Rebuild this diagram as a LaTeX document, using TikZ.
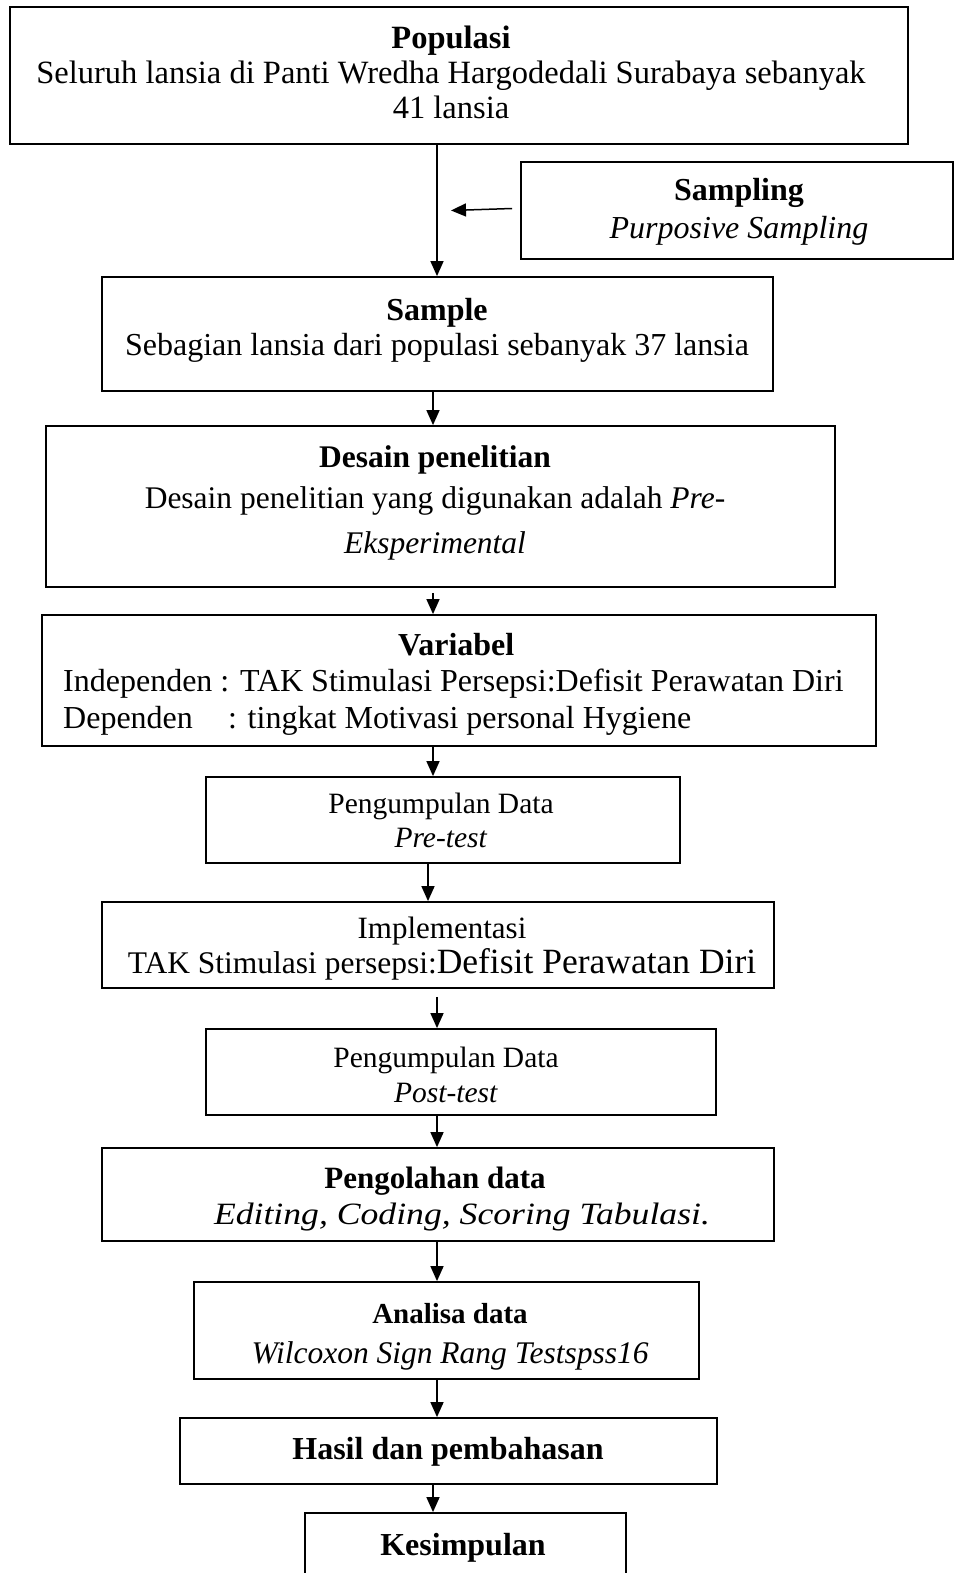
\documentclass[tikz,border=0pt]{standalone}
\usepackage{fontspec}
\setmainfont{Liberation Serif}
\newfontfamily\wde[FakeStretch=1.15]{Liberation Serif}
\usepackage{tikz}
\usetikzlibrary{arrows.meta,calc}

% strut that fixes the height of a first line
\newcommand{\ts}{\rule{0pt}{24pt}}

\tikzset{
  box/.style={draw, line width=1.8pt, rectangle, inner sep=0pt},
  txt/.style={align=center, inner sep=0pt, anchor=north},
  arr/.style={line width=1.5pt, -{Triangle[length=15pt,width=13pt]}},
}

\begin{document}
\begin{tikzpicture}[x=1pt,y=-1pt]
\path[use as bounding box, clip] (0,0) rectangle (955,1573);

% boxes
\node[box, minimum width=898, minimum height=137] (pop) at (459,75.5) {};
\node[box, minimum width=432, minimum height=97] (samp) at (737,210.5) {};
\node[box, minimum width=671, minimum height=114] (sample) at (437.5,334) {};
\node[box, minimum width=789, minimum height=161] (desain) at (440.5,506.5) {};
\node[box, minimum width=834, minimum height=131] (variabel) at (459,680.5) {};
\node[box, minimum width=474, minimum height=86] (pretest) at (443,820) {};
\node[box, minimum width=672, minimum height=86] (impl) at (438,945) {};
\node[box, minimum width=510, minimum height=86] (posttest) at (461,1072) {};
\node[box, minimum width=672, minimum height=93] (olah) at (438,1194.5) {};
\node[box, minimum width=505, minimum height=97] (analisa) at (446.5,1330.5) {};
\node[box, minimum width=537, minimum height=66] (hasil) at (448.5,1451) {};
\node[box, minimum width=321, minimum height=100] (simpul) at (465.5,1563) {};

% texts
\node[txt, font={\fontsize{32.5}{35}\selectfont}] (popT) at (451,24)
  {\ts\textbf{Populasi}\\Seluruh lansia di Panti Wredha Hargodedali Surabaya sebanyak\\41 lansia};
\node[txt, font={\fontsize{32}{38}\selectfont}] (sampT) at (739,176)
  {\ts\textbf{Sampling}\\\textit{Purposive Sampling}};
\node[txt, font={\fontsize{32}{35}\selectfont}] (sampleT) at (437,296)
  {\ts\textbf{Sample}\\Sebagian lansia dari populasi sebanyak 37 lansia};
\node[txt, font={\fontsize{31.5}{41}\selectfont}] (desainT) at (435,443)
  {\ts\textbf{Desain penelitian}\\Desain penelitian yang digunakan adalah \textit{Pre-}\\[4pt]\textit{Eksperimental}};
\node[txt, anchor=north west, font={\fontsize{32}{36.5}\selectfont}] (variabelT) at (63,631)
  {\ts\makebox[776pt][c]{\hspace{10pt}\textbf{Variabel}}\\
   \makebox[776pt][l]{Independen : TAK Stimulasi Persepsi:Defisit Perawatan Diri}\\
   \makebox[776pt][l]{\makebox[165pt][l]{Dependen}: tingkat Motivasi personal Hygiene}};
\node[txt, font={\fontsize{29.5}{34}\selectfont}] (pretestT) at (441,789)
  {\ts Pengumpulan Data\\\textit{Pre-test}};
\node[txt, font={\fontsize{31}{35}\selectfont}] (implT) at (442,914)
  {\ts Implementasi\\{\fontsize{31.5}{35}\selectfont TAK Stimulasi persepsi:}{\fontsize{35.5}{35}\selectfont Defisit Perawatan Diri}};
\node[txt, font={\fontsize{29.5}{35}\selectfont}] (posttestT) at (446,1043)
  {\ts Pengumpulan Data\\\textit{Post-test}};
\node[txt, font={\fontsize{31}{36}\selectfont}] (olahT) at (435,1164)
  {\ts\textbf{Pengolahan data}\\\hspace*{54pt}{\wde\itshape Editing, Coding, Scoring Tabulasi.}};
\node[txt, font={\fontsize{31.5}{40}\selectfont}] (analisaT) at (450,1299)
  {\ts{\fontsize{29}{40}\selectfont\bfseries Analisa data}\\\textit{Wilcoxon Sign Rang Testspss16}};
\node[txt, font={\fontsize{32}{35}\selectfont}] (hasilT) at (448,1435)
  {\ts\textbf{Hasil dan pembahasan}};
\node[txt, font={\fontsize{32}{35}\selectfont}] (simpulT) at (463,1531)
  {\ts\textbf{Kesimpulan}};

% connectors
\coordinate (c1) at (437,0);
\coordinate (c2) at (433,0);
\coordinate (c3) at (428,0);
\coordinate (sx) at (451,0);
\draw[arr] (c1 |- pop.south) -- (c1 |- sample.north);
\draw[arr] ($(samp.west)+(-8,-2)$) -- (sx |- samp.west);
\draw[arr] (c2 |- sample.south) -- (c2 |- desain.north);
\draw[arr, shorten <=5pt] (c2 |- desain.south) -- (c2 |- variabel.north);
\draw[arr] (c2 |- variabel.south) -- (c2 |- pretest.north);
\draw[arr] (c3 |- pretest.south) -- (c3 |- impl.north);
\draw[arr, shorten <=8pt] (c1 |- impl.south) -- (c1 |- posttest.north);
\draw[arr] (c1 |- posttest.south) -- (c1 |- olah.north);
\draw[arr] (c1 |- olah.south) -- (c1 |- analisa.north);
\draw[arr] (c1 |- analisa.south) -- (c1 |- hasil.north);
\draw[arr] (c2 |- hasil.south) -- (c2 |- simpul.north);
\end{tikzpicture}
\end{document}
